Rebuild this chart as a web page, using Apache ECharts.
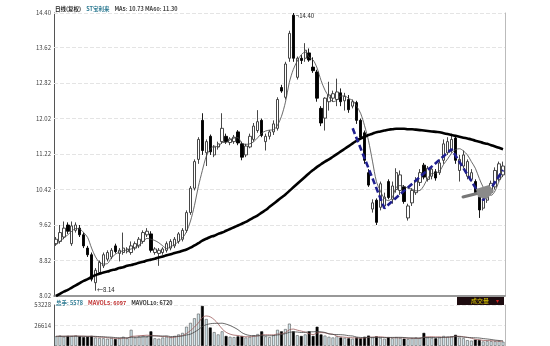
<!DOCTYPE html>
<html><head><meta charset="utf-8">
<script src="https://cdn.jsdelivr.net/npm/echarts@6/dist/echarts.min.js"></script>
<style>html,body{margin:0;padding:0;background:#fff}#c{width:550px;height:346px}</style>
</head><body><div id="c"></div>
<script>
// [open, close, low, high]
const candles = [
[9.20,9.30,9.15,9.35],[9.25,9.45,9.20,9.62],[9.35,9.55,9.30,9.70],[9.62,9.48,9.42,9.68],[9.20,9.60,9.15,9.70],
[9.50,9.62,9.45,9.68],[9.55,9.40,9.35,9.62],[9.40,9.15,9.10,9.45],[9.10,8.95,8.90,9.15],[8.95,8.40,8.35,9.00],
[8.32,8.60,8.14,8.65],[8.55,8.78,8.50,8.82],[8.70,8.95,8.65,9.00],[8.85,9.00,8.80,9.05],[8.90,9.05,8.85,9.10],
[9.15,9.02,8.98,9.20],[8.98,9.05,8.80,9.10],[9.00,9.10,8.95,9.45],[9.02,9.08,8.98,9.12],[9.00,9.15,8.95,9.25],
[9.10,9.20,9.05,9.25],[9.15,9.30,9.10,9.35],[9.25,9.45,9.20,9.50],[9.40,9.48,9.35,9.55],[9.42,9.05,9.00,9.48],
[9.00,9.08,8.95,9.12],[8.98,9.05,8.70,9.10],[9.00,9.08,8.95,9.12],[9.05,9.20,9.00,9.25],[9.10,9.25,9.05,9.30],
[9.15,9.30,9.10,9.35],[9.25,9.42,9.20,9.46],[9.30,9.50,9.25,9.55],[9.50,9.90,9.45,9.95],[9.90,10.45,9.85,10.50],
[10.45,11.05,10.40,11.10],[11.10,11.55,11.00,11.60],[11.98,11.30,11.20,12.14],[11.25,11.50,10.95,11.55],[11.62,11.27,11.20,11.66],
[11.20,11.38,11.15,11.42],[11.38,11.45,11.32,11.50],[11.50,11.80,11.45,12.14],[11.62,11.50,11.45,11.68],[11.48,11.56,11.42,11.60],
[11.50,11.60,11.45,11.65],[11.72,11.47,11.42,11.76],[11.45,11.15,11.08,11.50],[11.20,11.40,11.15,11.45],[11.38,11.62,11.35,11.68],
[11.55,11.85,11.50,11.92],[11.75,11.95,11.70,12.21],[11.98,11.64,11.60,12.02],[11.50,11.62,11.30,11.68],[11.62,11.72,11.55,11.76],
[11.72,11.90,11.65,11.98],[11.80,12.45,11.75,12.50],[12.72,12.64,12.60,12.78],[12.50,13.25,12.45,13.30],[13.38,13.94,13.30,14.00],
[14.35,13.38,13.30,14.40],[12.95,13.38,12.90,13.42],[13.38,13.33,13.25,13.45],[13.38,13.56,13.30,13.72],[13.50,13.34,13.30,13.60],
[13.18,13.10,13.05,13.40],[13.07,12.48,12.40,13.12],[12.25,11.92,11.85,12.30],[12.03,12.48,11.75,12.50],[12.40,12.55,12.20,12.85],
[12.48,12.58,12.40,12.65],[12.45,12.62,12.30,12.92],[12.60,12.40,12.30,12.70],[12.42,12.52,12.20,12.60],[12.45,12.22,12.15,12.55],
[12.30,12.40,12.25,12.45],[12.38,11.98,11.90,12.42],[11.98,11.60,11.55,12.02],[11.70,11.08,11.00,11.75],[10.80,10.52,10.48,10.88],
[9.98,10.12,9.90,10.20],[10.18,9.68,9.62,10.22],[10.02,10.55,9.95,10.60],[10.05,10.25,9.98,10.35],[10.60,10.24,10.20,10.65],
[10.20,10.50,10.10,10.60],[10.42,10.80,10.35,10.90],[10.40,10.75,10.30,10.85],[10.48,10.15,10.10,10.52],[9.78,10.05,9.72,10.10],
[10.12,10.40,10.05,10.45],[10.35,10.62,10.30,10.70],[10.58,10.80,10.50,10.88],[10.97,10.70,10.65,11.02],[10.65,10.90,10.60,10.95],
[10.72,10.88,10.65,10.95],[10.82,10.68,10.62,10.88],[10.80,11.02,10.75,11.10],[11.08,11.45,11.00,11.55],[11.25,11.50,11.20,11.60],
[11.30,11.55,11.25,11.68],[11.58,11.08,11.00,11.65],[10.85,11.10,10.60,11.20],[10.95,11.20,10.90,11.30],[10.72,11.05,10.65,11.10],
[10.65,10.80,10.60,10.88],[10.60,10.35,10.30,10.65],[10.30,9.96,9.78,10.35],[10.00,10.18,9.95,10.22],[10.18,10.40,10.12,10.45],
[10.35,10.56,10.30,10.62],[10.48,10.85,10.42,10.92],[10.65,11.00,10.60,11.05],[10.75,10.95,10.70,11.05]
];
const ma5 = [9.17,9.25,9.33,9.40,9.48,9.54,9.53,9.45,9.34,9.10,8.90,8.78,8.74,8.75,8.88,8.96,9.01,9.04,9.06,9.08,
9.12,9.17,9.24,9.32,9.30,9.27,9.22,9.15,9.09,9.13,9.18,9.25,9.33,9.47,9.71,10.06,10.49,10.85,11.17,11.33,
11.40,11.38,11.48,11.48,11.54,11.58,11.59,11.46,11.44,11.45,11.50,11.59,11.69,11.74,11.76,11.77,11.87,12.07,12.39,12.84,
13.13,13.32,13.46,13.52,13.40,13.34,13.16,12.88,12.66,12.51,12.40,12.43,12.53,12.53,12.47,12.43,12.30,12.14,11.86,11.52,
11.06,10.60,10.39,10.22,10.17,10.24,10.47,10.51,10.49,10.45,10.43,10.39,10.40,10.51,10.68,10.78,10.79,10.84,10.99,11.11,
11.24,11.32,11.34,11.29,11.20,11.05,10.90,10.67,10.47,10.34,10.29,10.39,10.60,10.75];
const ma60 = [8.02,8.07,8.12,8.16,8.21,8.26,8.31,8.36,8.40,8.45,8.49,8.52,8.55,8.57,8.60,8.62,8.65,8.67,8.70,8.72,
8.74,8.77,8.79,8.82,8.84,8.86,8.89,8.91,8.94,8.96,8.99,9.01,9.04,9.07,9.11,9.16,9.21,9.27,9.31,9.35,
9.38,9.42,9.45,9.49,9.53,9.57,9.61,9.65,9.69,9.74,9.79,9.84,9.90,9.96,10.03,10.10,10.17,10.24,10.31,10.39,
10.47,10.55,10.63,10.71,10.79,10.86,10.93,10.99,11.05,11.10,11.16,11.22,11.28,11.34,11.40,11.46,11.52,11.57,11.61,11.65,
11.68,11.71,11.73,11.75,11.77,11.78,11.79,11.79,11.79,11.78,11.78,11.77,11.76,11.75,11.74,11.73,11.72,11.71,11.69,11.67,
11.65,11.63,11.61,11.59,11.57,11.55,11.52,11.50,11.47,11.45,11.42,11.39,11.36,11.33];
const volumes = [12500,13500,12000,13000,12800,13600,12500,11500,12000,13000,
11000,10500,10000,9500,10500,9000,9800,12000,10000,21000,
11000,12500,13500,12000,19000,10000,9500,11000,12000,11500,
13000,15000,17000,25000,30000,36000,42000,52000,35000,24000,
18000,15000,19000,13000,12000,11500,12500,13000,11000,12000,
14000,15500,19000,12500,11500,14000,21000,19000,22000,29000,
19000,14000,13000,15000,19000,13000,25000,15000,13500,12000,
11000,12500,11000,10500,10000,9500,11000,10000,12000,13500,
11000,12500,10500,9500,11500,10000,11500,10500,9500,9000,
10000,11000,10500,17000,11000,10500,10000,11000,13000,12000,
12500,14500,11000,10000,7600,7000,8200,7800,5900,6500,
6200,6100,6300,5578];
const mavol5 = [12500,12600,12600,12700,12760,12980,12780,12680,12480,12520,
12000,11600,11300,10800,10300,9900,9760,10160,10260,12360,
12760,13300,13600,14000,13600,13400,12800,12300,12300,10800,
11400,12500,13700,16300,20000,24600,30000,37000,39000,37800,
34200,28800,22200,17800,15400,14100,13600,12400,12000,12000,
12500,13100,14300,14600,14500,14500,15600,15600,17500,21000,
22000,20600,19400,18000,16000,14800,17000,17400,17100,15700,
15300,12800,12000,11400,11000,10700,10400,10200,10500,11200,
11500,11800,11900,11400,11000,10800,10600,10600,10600,10100,
10100,10000,10000,11500,11900,12000,11800,11900,11100,11300,
11700,12600,12600,12000,11120,10020,8760,8120,7300,7080,
6920,6500,6200,6136];
const mavol10 = [12600,12600,12650,12700,12750,12740,12690,12640,12590,12640,
12490,12190,11990,11640,11410,10950,10680,10730,10530,11330,
11330,11530,11880,12130,12980,13080,13050,12950,13150,12200,
12400,12650,13000,14300,15400,18000,21250,25350,27650,28900,
29400,29400,29600,28400,26600,24150,21200,17300,14900,13700,
13300,13350,13350,13300,13250,13500,14350,14950,16050,17750,
18250,18100,17500,17750,18500,18400,18800,18400,17550,15850,
15050,14900,14700,14250,13350,13000,11600,11100,10950,11100,
11100,11100,11050,10950,11100,11150,11200,11250,11000,10550,
10450,10300,10300,11050,11000,11050,10900,10950,11300,11600,
11850,12200,12250,11550,11210,10860,10680,10360,9650,9100,
8470,7630,7160,6718];
const priceTicks = [8.02, 8.82, 9.62, 10.42, 11.22, 12.02, 12.82, 13.62, 14.40];
const volTicks = [0, 26614, 53228];
// W pattern drawn by hand on the chart: [day index, price]
const wPattern = [[75, 11.80], [83, 10.00], [100, 11.33], [108, 10.18], [113, 10.86]];
const highMark = [60, 14.40];
const lowMark = [10, 8.14];

const days = candles.map((_, i) => String(i));
const chart = echarts.init(document.getElementById('c'), null, {renderer: 'canvas'});
const FONT = 'Noto Sans CJK SC, DejaVu Sans, sans-serif';
const isUp = i => candles[i][1] >= candles[i][0];
const volData = volumes.map((v, i) => ({
  value: v,
  itemStyle: isUp(i) ? {color: '#d3e6ec', borderColor: '#555', borderWidth: 0.6}
                     : {color: '#000', borderColor: '#000', borderWidth: 0.6}
}));
const rs = (c) => ({fontSize: 5.5, lineHeight: 7, color: c, fontFamily: FONT});

chart.setOption({
  animation: false,
  backgroundColor: '#fff',
  title: [
    {left: 55, top: 0, padding: 0,
     text: '{a|日线(复权)} {b|ST宝利来} {c|MA5: 10.73 MA60: 11.30}',
     textStyle: {rich: {a: rs('#222'), b: rs('#2d7a92'), c: rs('#444')}}},
    {left: 56, top: 294, padding: 0,
     text: '{a|总手: 5578} {b|MAVOL5: 6097} {c|MAVOL10: 6720}',
     textStyle: {rich: {a: rs('#2d7a92'), b: rs('#c03030'), c: rs('#333')}}}
  ],
  graphic: [
    {type: 'rect', shape: {x: 457, y: 297, width: 47, height: 8}, style: {fill: '#1e0c10'}},
    {type: 'text', x: 471, y: 297.5, style: {text: '成交量', fill: '#e6d400', font: '6px ' + FONT}},
    {type: 'text', x: 496, y: 297.5, style: {text: '▾', fill: '#d02020', font: '6px ' + FONT}},
    // mouse pointer captured in the screenshot
    {type: 'polyline', z: 100, shape: {points: [[463, 197], [479, 193]]}, style: {stroke: '#777', lineWidth: 3, lineCap: 'round'}},
    {type: 'polygon', z: 100, shape: {points: [[476, 189], [489, 185], [494, 191], [487, 199], [478, 197]]}, style: {fill: '#8a8a8a'}}
  ],
  grid: [
    {left: 54, right: 45, top: 13, height: 283},
    {left: 54, right: 45, top: 305, bottom: -3}
  ],
  xAxis: [
    {type: 'category', data: days, gridIndex: 0, boundaryGap: true,
     axisLine: {show: true, lineStyle: {color: '#777', width: 1.5}},
     axisTick: {show: false}, axisLabel: {show: false}, splitLine: {show: false}},
    {type: 'category', data: days, gridIndex: 1, boundaryGap: true,
     axisLine: {show: false}, axisTick: {show: false}, axisLabel: {show: false}, splitLine: {show: false}}
  ],
  yAxis: [
    {type: 'value', gridIndex: 0, min: 8.02, max: 14.40, position: 'left',
     axisLine: {show: true, lineStyle: {color: '#555', width: 1}},
     axisTick: {show: false},
     axisLabel: {customValues: priceTicks, formatter: v => v.toFixed(2), fontSize: 6, color: '#444', margin: 3, fontFamily: FONT},
     splitLine: {show: false}},
    {type: 'value', gridIndex: 1, min: volTicks[0], max: volTicks[2], interval: volTicks[1], position: 'left',
     axisLine: {show: true, lineStyle: {color: '#555', width: 1}},
     axisTick: {show: false},
     axisLabel: {formatter: v => v === 0 ? '' : String(v), fontSize: 6, color: '#444', margin: 3, fontFamily: FONT},
     splitLine: {show: true, lineStyle: {color: '#e6e6e6', type: 'dashed', width: 1}}},
    {type: 'value', gridIndex: 0, min: 8.02, max: 14.40, position: 'right',
     axisLine: {show: true, lineStyle: {color: '#bbb', width: 1}}, axisTick: {show: false},
     axisLabel: {show: false}, splitLine: {show: false}},
    {type: 'value', gridIndex: 1, min: volTicks[0], max: volTicks[2], position: 'right',
     axisLine: {show: true, lineStyle: {color: '#bbb', width: 1}}, axisTick: {show: false},
     axisLabel: {show: false}, splitLine: {show: false}}
  ],
  series: [
    {type: 'candlestick', name: 'K', xAxisIndex: 0, yAxisIndex: 0, data: candles, barWidth: '72%',
     itemStyle: {color: '#fff', color0: '#000', borderColor: '#333', borderColor0: '#000', borderWidth: 0.9},
     markLine: {silent: true, z: 1, symbol: ['none', 'none'], label: {show: false},
       lineStyle: {color: '#e4e4e4', type: 'dashed', width: 1},
       data: priceTicks.slice(1).map(v => ({yAxis: v}))},
     markPoint: {symbol: 'circle', symbolSize: 1, itemStyle: {color: 'rgba(0,0,0,0)'},
       data: [
         {coord: highMark, label: {show: true, position: 'right', distance: 1, offset: [1, 3], formatter: '¬' + highMark[1].toFixed(2), fontSize: 6, color: '#222', fontFamily: FONT}},
         {coord: lowMark, label: {show: true, position: 'right', distance: 1, offset: [0, -1], formatter: '←' + lowMark[1].toFixed(2), fontSize: 6, color: '#222', fontFamily: FONT}}
       ]}},
    {type: 'line', name: 'MA5', xAxisIndex: 0, yAxisIndex: 0, data: ma5, smooth: 0.3, symbol: 'none',
     lineStyle: {color: '#444', width: 0.8}, z: 3},
    {type: 'line', name: 'MA60', xAxisIndex: 0, yAxisIndex: 0, data: ma60, smooth: true, symbol: 'none',
     lineStyle: {color: '#000', width: 2.6}, z: 4},
    {type: 'line', name: 'W', xAxisIndex: 0, yAxisIndex: 0, data: wPattern, symbol: 'none',
     lineStyle: {color: '#1f1f8f', width: 2.6, type: [6, 3]}, z: 6},
    {type: 'bar', name: 'VOL', xAxisIndex: 1, yAxisIndex: 1, data: volData, barWidth: '72%'},
    {type: 'line', name: 'MAVOL5', xAxisIndex: 1, yAxisIndex: 1, data: mavol5, symbol: 'none', smooth: 0.3,
     lineStyle: {color: '#9a5a5a', width: 0.8}, z: 5},
    {type: 'line', name: 'MAVOL10', xAxisIndex: 1, yAxisIndex: 1, data: mavol10, symbol: 'none', smooth: 0.3,
     lineStyle: {color: '#444', width: 0.8}, z: 5}
  ]
});
</script>
</body></html>
